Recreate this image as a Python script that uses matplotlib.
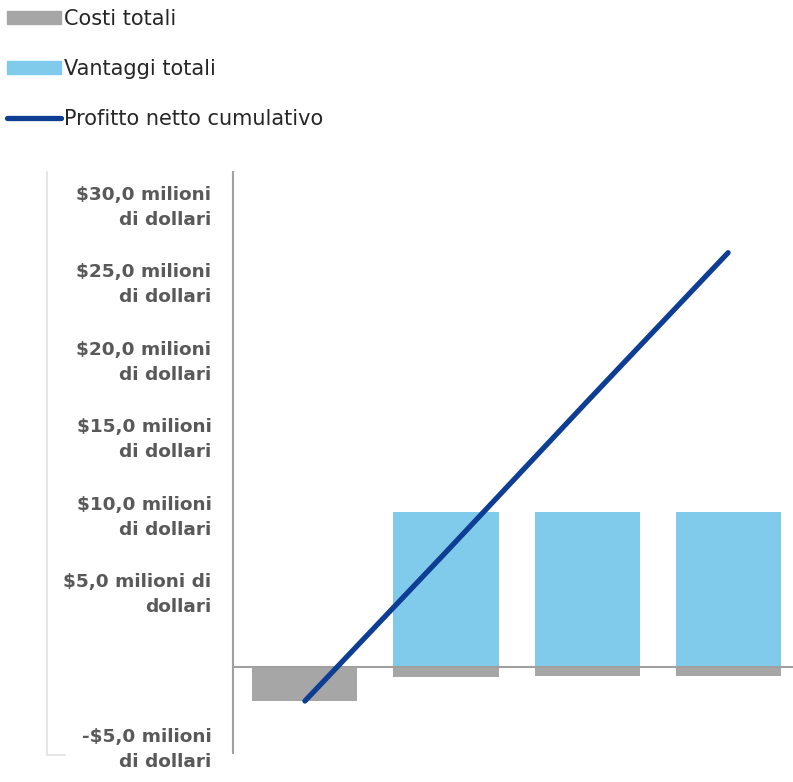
import matplotlib
matplotlib.use("Agg")
import matplotlib.pyplot as plt
import matplotlib.patches as mpatches
from matplotlib.lines import Line2D
import numpy as np

# dati (milioni di dollari)
anni = [0, 1, 2, 3]
costi = [-2.2, -0.65, -0.6, -0.6]
vantaggi = [0.0, 10.0, 10.0, 10.0]
profitto_cumulativo = [-2.2, 7.4, 17.1, 26.7]

tick_valori = [-5, 5, 10, 15, 20, 25, 30]
tick_etichette = ["-$5,0 milioni\ndi dollari",
                  "$5,0 milioni di\ndollari",
                  "$10,0 milioni\ndi dollari",
                  "$15,0 milioni\ndi dollari",
                  "$20,0 milioni\ndi dollari",
                  "$25,0 milioni\ndi dollari",
                  "$30,0 milioni\ndi dollari"]

grigio = '#a6a6a6'
azzurro = '#80cbeb'
blu = '#0d3e94'
asse = '#a0a0a0'

fig = plt.figure(figsize=(7.93, 7.82), dpi=100)
ax = fig.add_axes([0.2938, 0.0371, 0.7062, 0.7429])

x = np.array(anni)
ax.bar(x, costi, width=0.745, color=grigio, zorder=2)
ax.bar(x, vantaggi, width=0.745, color=azzurro, zorder=2)
ax.axhline(0, color=asse, linewidth=1.5, zorder=3)
ax.plot(x, profitto_cumulativo, color=blu, linewidth=3.8,
        solid_capstyle='round', zorder=4)

ax.set_xlim(-0.51, 3.46)
ax.set_ylim(-5.55, 31.9)
ax.set_xticks([])
ax.set_yticks(tick_valori)
ax.set_yticklabels(tick_etichette, fontsize=13.3, fontweight='bold',
                   color='#595959', ha='right', linespacing=1.5)
ax.tick_params(axis='y', length=0, pad=15.5)

for s in ['top', 'right', 'bottom']:
    ax.spines[s].set_visible(False)
ax.spines['left'].set_color(asse)
ax.spines['left'].set_linewidth(1.5)

# staffa chiara a sinistra
fig.add_artist(Line2D([47/793, 47/793, 65/793], [1-172/782, 1-755/782, 1-755/782],
                      color='#e2e2e2', linewidth=1.2))

handles = [mpatches.Patch(color=grigio, label='Costi totali'),
           mpatches.Patch(color=azzurro, label='Vantaggi totali'),
           Line2D([], [], color=blu, linewidth=3.8, solid_capstyle='round',
                  label='Profitto netto cumulativo')]
fig.legend(handles=handles, loc='upper left', bbox_to_anchor=(-0.007, 1.005),
           frameon=False, fontsize=15, handlelength=2.6, handleheight=0.6,
           handletextpad=0.15, labelspacing=1.45, borderaxespad=0.2,
           labelcolor='#262626')

fig.savefig('out.png', dpi=100)
